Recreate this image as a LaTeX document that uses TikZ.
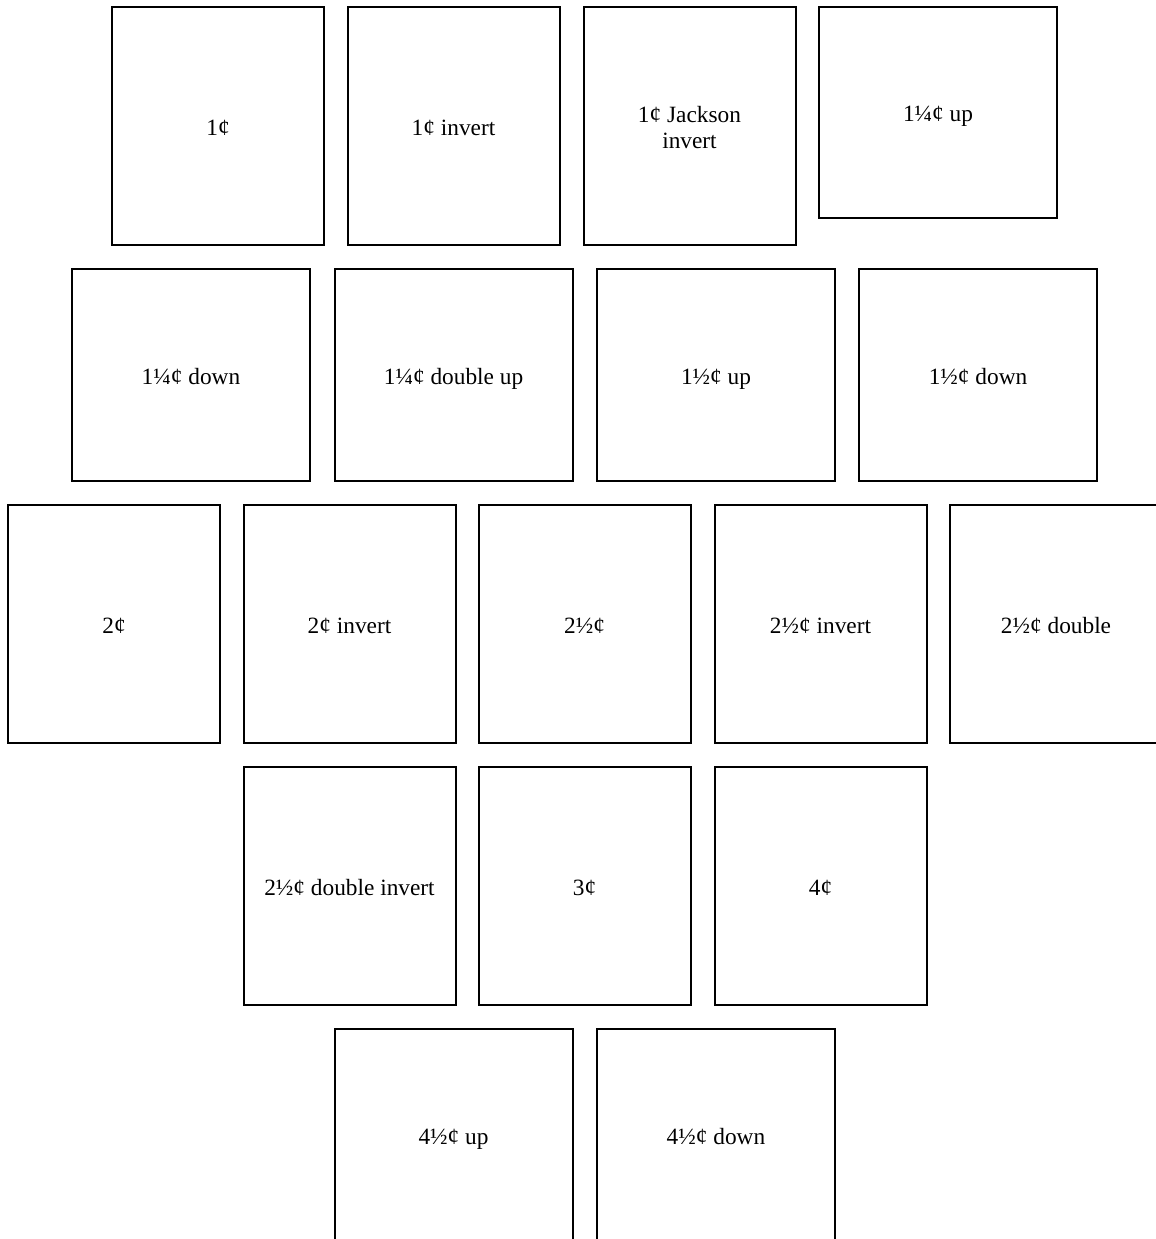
\documentclass[tikz,border=0pt]{standalone}
\usepackage{fontspec}
\setmainfont{Liberation Serif}

\tikzset{
    tall/.style={draw, line width=1.5pt, minimum width=159pt, minimum height=178.5pt, inner sep=0pt, align=center, text height=17.5pt, text depth=4pt, font=\fontsize{17.5}{20}\selectfont},
    wide/.style={tall, minimum width=178.5pt, minimum height=159pt}
}

\begin{document}
\begin{tikzpicture}[x=0.75pt, y=-0.75pt]
    \useasboundingbox (0,0) rectangle (1156,1239);
    \clip (0,0) rectangle (1156,1239);

    % Row 1
    \node[tall] (c1) at (218,126) {1¢};
    \node[tall] (c1inv) at (453.5,126) {1¢ invert};
    \node[tall, text height=38pt] (c1jackson) at (689.5,126) {1¢ Jackson\\invert};
    \node[wide, minimum height=158pt] (c114up) at (938,112.5) {1¼¢ up};

    % Row 2
    \node[wide] (c114down) at (191,375) {1¼¢ down};
    \node[wide] (c114dbl) at (453.5,375) {1¼¢ double up};
    \node[wide] (c112up) at (716,375) {1½¢ up};
    \node[wide] (c112down) at (978,375) {1½¢ down};

    % Row 3
    \node[tall] (c2) at (114,624) {2¢};
    \node[tall] (c2inv) at (349.5,624) {2¢ invert};
    \node[tall] (c212) at (584.5,624) {2½¢};
    \node[tall] (c212inv) at (820.5,624) {2½¢ invert};
    \node[tall] (c212dbl) at (1056,624) {2½¢ double};

    % Row 4
    \node[tall] (c212dblinv) at (349.5,886) {2½¢ double invert};
    \node[tall] (c3) at (584.5,886) {3¢};
    \node[tall] (c4) at (820.5,886) {4¢};

    % Row 5
    \node[wide] (c412up) at (453.5,1135) {4½¢ up};
    \node[wide] (c412down) at (716,1135) {4½¢ down};
\end{tikzpicture}
\end{document}
